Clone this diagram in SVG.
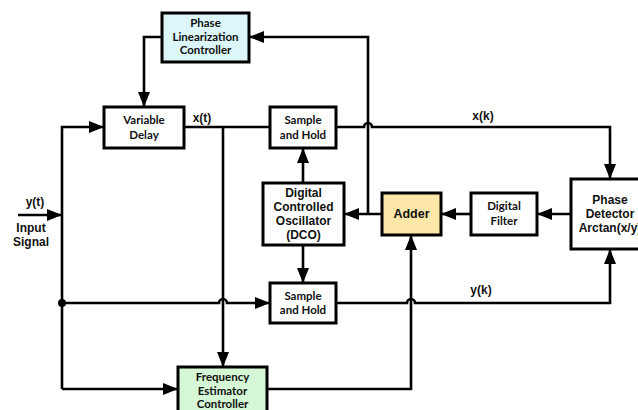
<svg xmlns="http://www.w3.org/2000/svg" width="638" height="410" viewBox="0 0 638 410">
<defs>
<marker id="ah" markerUnits="userSpaceOnUse" markerWidth="16" markerHeight="12" refX="15" refY="6" orient="auto">
<path d="M0,0 L15,6 L0,12 z" fill="#000"/>
</marker>
<style>
.box{stroke:#000;stroke-width:3;fill:#fff}
.c{fill:none;stroke:#000;stroke-width:2.6;stroke-linejoin:miter}
.a{marker-end:url(#ah)}
.t1{font-family:Lato,"Open Sans",sans-serif;font-weight:bold;font-size:11.5px;text-anchor:middle;fill:#111}
.t2{font-family:"Liberation Sans",Arial,sans-serif;font-weight:bold;font-size:12px;text-anchor:middle;fill:#111}
.t3{font-family:"Liberation Sans",Arial,sans-serif;font-weight:bold;font-size:12px;text-anchor:middle;fill:#111}
</style>
</defs>
<rect width="638" height="410" fill="#fff"/>
<g id="connectors">
<path class="c a" d="M162,37 H144 V107"/>
<path class="c a" d="M382,214 H344"/>
<path class="c a" d="M368,214 V37 H249"/>
<path class="c a" d="M18,215 H62"/>
<path class="c a" d="M62,389 V127 H104"/>
<path class="c a" d="M62,389 H178"/>
<circle cx="62" cy="303" r="4" fill="#000"/>
<path class="c a" d="M62,303 H219 a4,4 0 0 1 8,0 H270"/>
<path class="c" d="M184,127 H270"/>
<path class="c a" d="M223,127 V367"/>
<path class="c a" d="M336,127 H364 a4,4 0 0 1 8,0 H610 V179"/>
<path class="c a" d="M336,303 H407 a4,4 0 0 1 8,0 H610 V249"/>
<path class="c a" d="M303,183 V148"/>
<path class="c a" d="M303,245 V283"/>
<path class="c a" d="M267,389 H411 V235"/>
<path class="c a" d="M471,214 H441"/>
<path class="c a" d="M571,214 H537"/>
</g>
<g id="labels">
<text class="t3" x="202" y="122">x(t)</text>
<text class="t3" x="483" y="120">x(k)</text>
<text class="t3" x="481" y="294">y(k)</text>
<text class="t3" x="35" y="206">y(t)</text>
<text class="t3" x="31" y="232">Input</text>
<text class="t3" x="31" y="246">Signal</text>
</g>
<g id="plc">
<rect class="box" x="162" y="13" width="87" height="49" style="fill:#dcf6fa"/>
<text class="t1" x="205.5" y="27">Phase</text>
<text class="t1" x="205.5" y="40.5">Linearization</text>
<text class="t1" x="205.5" y="54">Controller</text>
</g>
<g id="variable-delay">
<rect class="box" x="104" y="107" width="80" height="41"/>
<text class="t1" x="144" y="124">Variable</text>
<text class="t1" x="144" y="139">Delay</text>
</g>
<g id="sh-top">
<rect class="box" x="270" y="107" width="66" height="41"/>
<text class="t1" x="303" y="124">Sample</text>
<text class="t1" x="303" y="139">and Hold</text>
</g>
<g id="sh-bottom">
<rect class="box" x="270" y="283" width="66" height="40"/>
<text class="t1" x="303" y="300">Sample</text>
<text class="t1" x="303" y="314">and Hold</text>
</g>
<g id="dco">
<rect class="box" x="263" y="183" width="81" height="62"/>
<text class="t2" x="303.5" y="197">Digital</text>
<text class="t2" x="303.5" y="211">Controlled</text>
<text class="t2" x="303.5" y="225">Oscillator</text>
<text class="t2" x="303.5" y="239">(DCO)</text>
</g>
<g id="adder">
<rect class="box" x="382" y="193" width="59" height="42" style="fill:#fce7a8"/>
<text class="t2" x="411.5" y="218" style="font-size:12.5px">Adder</text>
</g>
<g id="digital-filter">
<rect class="box" x="471" y="193" width="66" height="42"/>
<text class="t1" x="504" y="210">Digital</text>
<text class="t1" x="504" y="225">Filter</text>
</g>
<g id="phase-detector">
<rect class="box" x="571" y="179" width="82" height="70"/>
<text class="t2" x="610" y="204">Phase</text>
<text class="t2" x="610" y="218">Detector</text>
<text class="t2" x="610" y="232">Arctan(x/y)</text>
</g>
<g id="fec">
<rect class="box" x="178" y="367" width="89" height="50" style="fill:#d5f7d5"/>
<text class="t1" x="222.5" y="381">Frequency</text>
<text class="t1" x="222.5" y="394.5">Estimator</text>
<text class="t1" x="222.5" y="408">Controller</text>
</g>
</svg>
